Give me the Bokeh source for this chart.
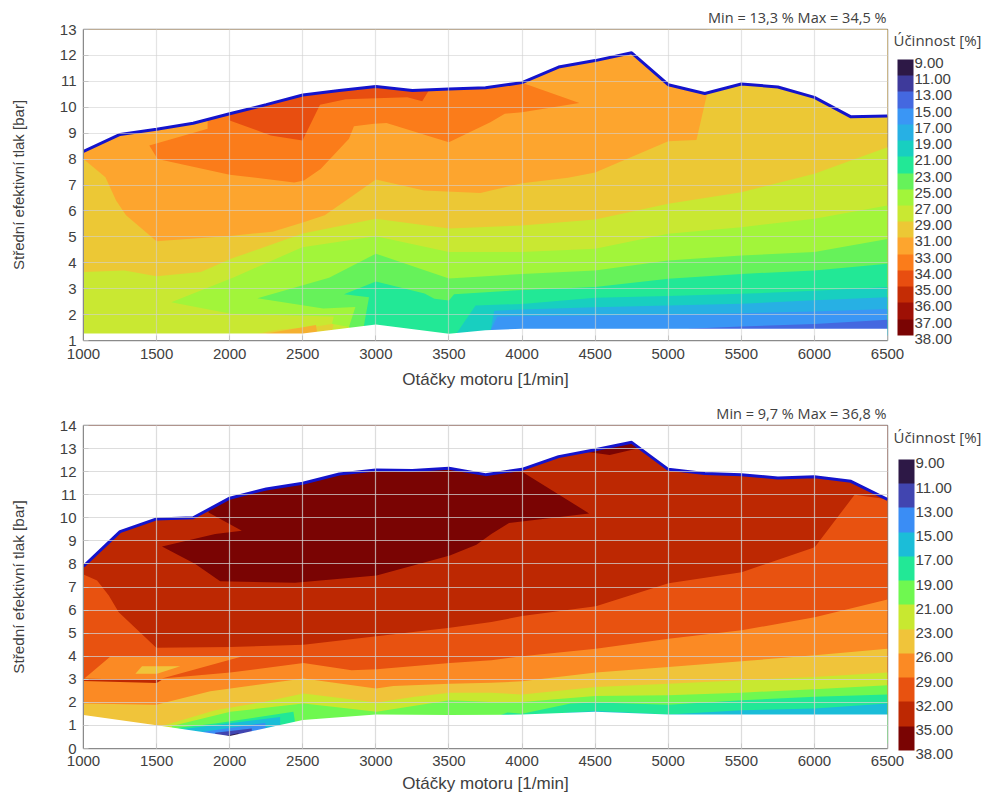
from bokeh.plotting import figure
from bokeh.layouts import column
from bokeh.models import ColorBar, LinearColorMapper, Title, FixedTicker, Range1d, AllLabels, LinearAxis
from bokeh.embed import file_html
from bokeh.resources import INLINE

X_TICKS = [1000, 1500, 2000, 2500, 3000, 3500, 4000, 4500, 5000, 5500, 6000, 6500]
X_TITLE = "Otáčky motoru [1/min]"
Y_TITLE = "Střední efektivní tlak [bar]"
LEGEND_TITLE = "Účinnost [%]"

# ---- top chart ----
T_STATS = "Min = 13,3 % Max = 34,5 %"
T_LABELS = ["9.00", "11.00", "13.00", "15.00", "17.00", "19.00", "21.00", "23.00", "25.00",
            "27.00", "29.00", "31.00", "33.00", "34.00", "35.00", "36.00", "37.00", "38.00"]
T_COLORS = ["#2d1846", "#3e3a9b", "#4468e0", "#3a96f5", "#27b0e4", "#18cfc0", "#22e896", "#66f25a",
            "#a2f53a", "#c9e832", "#ecc835", "#fda52e", "#fb7c1a", "#e84e10", "#c42c05", "#9e1005", "#7a0403"]
T_ENV_X = [1000, 1250, 1500, 1750, 2000, 2250, 2500, 2750, 3000, 3250, 3500, 3750, 4000, 4250, 4500, 4750,
           5000, 5250, 5500, 5750, 6000, 6250, 6500]
T_ENV_TOP = [8.3, 8.95, 9.15, 9.38, 9.75, 10.1, 10.47, 10.65, 10.8, 10.65, 10.7, 10.75, 10.95, 11.55, 11.8, 12.1,
             10.87, 10.53, 10.9, 10.78, 10.38, 9.63, 9.66]
T_LOW_X = [1000, 2500, 3000, 3500, 3750, 4000, 6500]
T_LOW_Y = [1.27, 1.27, 1.62, 1.26, 1.4, 1.45, 1.45]

T_BANDS = [
    # colour, x, y (painted in this order)
    ("#fda52e", [1000, 6500, 6500, 1000], [1, 1, 13, 13]),
    ("#fb7c1a", [1450, 1507, 2000, 2441, 2508, 2622, 2816, 2850, 2987, 3073, 3499, 3783, 3882, 4000, 4392, 4000,
                 3750, 3500, 3250, 3000, 2750, 2500, 2250, 2000, 1849, 1849],
                [8.52, 8.0, 7.4, 7.1, 7.17, 7.62, 8.78, 9.27, 9.36, 9.39, 8.65, 9.42, 9.75, 9.81, 10.16, 10.95,
                 11.2, 11.2, 11.2, 11.2, 11.2, 11.0, 10.6, 10.2, 9.8, 9.17]),
    ("#e84e10", [2000, 2281, 2498, 2618, 2794, 3215, 3317, 3362, 3362, 2000],
                [9.49, 8.91, 8.72, 10.1, 10.31, 10.39, 10.23, 10.65, 11.5, 11.5]),
    ("#ecc835", [1000, 1150, 1223, 1291, 1500, 1780, 2000, 2293, 2500, 2650, 2795, 3000, 3330, 3715, 4000, 4314, 4500,
                 5000, 5193, 5266, 5266, 6500, 6500, 1000],
                [8.0, 7.3, 6.4, 5.83, 4.83, 4.95, 5.03, 5.2, 5.55, 5.83, 6.4, 7.21, 6.79, 6.69, 7.07, 7.28, 7.48,
                 8.69, 8.74, 10.52, 13, 13, 1, 1]),
    ("#c9e832", [1000, 1280, 1500, 1803, 2008, 2500, 3000, 3500, 4000, 4500, 5000, 5500, 6000, 6500, 6500, 1000],
                [3.64, 3.70, 3.48, 3.64, 4.15, 5.13, 5.70, 5.32, 5.44, 5.67, 6.28, 6.72, 7.43, 8.46, 1, 1]),
    ("#e2d234", [2150, 2300, 2600, 2710, 2700, 2700, 2150], [1.2, 1.4, 1.55, 1.65, 1.3, 1.2, 1.2]),
    ("#f5b030", [2250, 2590, 2600, 2500, 2250], [1.27, 1.6, 1.25, 1.2, 1.2]),
    ("#a2f53a", [1600, 2030, 2497, 3000, 3500, 4000, 4500, 5000, 5500, 6000, 6500, 6500, 2900, 2816, 2700, 2712, 2008],
                [2.48, 3.44, 4.6, 5.02, 4.41, 4.41, 4.54, 5.12, 5.37, 5.7, 6.21, 1, 1, 1.52, 1.65, 1.93, 2.03]),
    ("#66f25a", [2190, 2680, 3000, 3500, 4000, 4500, 5000, 5500, 6000, 6500, 6500, 2920, 2816, 2860, 2640],
                [2.63, 3.42, 4.35, 3.39, 3.57, 3.70, 4.09, 4.28, 4.41, 4.92, 1, 1, 1.52, 2.29, 2.23]),
    ("#22e896", [2782, 3000, 3333, 3400, 3500, 3535, 4000, 4500, 5000, 5500, 6000, 6500, 6500, 2900, 2953],
                [2.78, 3.28, 2.81, 2.61, 2.54, 2.78, 2.95, 3.06, 3.38, 3.57, 3.70, 3.96, 1, 1, 2.67]),
    ("#18cfc0", [3543, 3682, 4000, 4500, 5000, 5500, 6000, 6500, 6500, 3543],
                [1.2, 2.35, 2.41, 2.65, 2.72, 2.8, 2.92, 3.06, 1, 1]),
    ("#27b0e4", [3780, 3810, 4000, 4500, 5000, 5500, 6000, 6500, 6500, 3780],
                [1.2, 2.15, 2.2, 2.28, 2.35, 2.42, 2.55, 2.67, 1, 1]),
    ("#3a96f5", [3770, 3830, 4500, 5000, 5500, 6000, 6500, 6500, 3770],
                [1.2, 1.93, 1.96, 2.0, 2.05, 2.12, 2.22, 1, 1]),
    ("#4468e0", [5140, 5500, 6000, 6500, 6500, 5140], [1.45, 1.54, 1.64, 1.8, 1, 1]),
]

# ---- bottom chart ----
B_STATS = "Min = 9,7 % Max = 36,8 %"
B_LABELS = ["9.00", "11.00", "13.00", "15.00", "17.00", "19.00", "21.00", "23.00", "26.00", "29.00", "32.00",
            "35.00", "38.00"]
B_COLORS = ["#2d1846", "#4145b0", "#3a8df5", "#1bbdd8", "#22e896", "#6ff850", "#c8e830", "#f0c43a", "#fb8a24",
            "#e85210", "#bd2802", "#7a0403"]
B_ENV_X = T_ENV_X
B_ENV_TOP = [7.9, 9.4, 9.95, 10.0, 10.85, 11.25, 11.5, 11.9, 12.07, 12.05, 12.15, 11.87, 12.1, 12.65, 12.95, 13.27,
             12.1, 11.92, 11.87, 11.72, 11.78, 11.58, 10.8]
B_LOW_X = [1000, 1500, 2000, 2500, 3000, 3500, 4000, 4500, 5000, 6500]
B_LOW_Y = [1.45, 1.01, 0.54, 1.23, 1.47, 1.45, 1.47, 1.59, 1.47, 1.47]

B_BANDS = [
    ("#bd2802", [1000, 6500, 6500, 1000], [0, 0, 14, 14]),
    ("#7a0403", [1537, 1765, 1935, 2447, 3005, 3506, 3688, 3790, 3911, 4459, 4000, 4000, 1855, 1855, 2083, 1901],
                [8.76, 8.0, 7.25, 7.18, 7.5, 8.36, 8.83, 9.3, 9.77, 10.19, 11.99, 13, 13, 10.23, 9.44, 9.3]),
    ("#7a0403", [4450, 4600, 4790, 4750, 4450], [12.85, 12.72, 13.0, 13.6, 13.2]),
    ("#e85210", [1000, 1093, 1173, 1241, 1498, 2004, 2505, 3005, 3506, 3790, 4000, 4505, 5002, 5502, 6002, 6275,
                 6500, 6500, 1000],
                [7.54, 7.28, 6.63, 5.91, 4.37, 4.4, 4.5, 4.86, 5.23, 5.48, 5.74, 6.17, 7.16, 7.64, 8.72, 11.0,
                 10.8, 0, 0]),
    ("#fb8a24", [1000, 1184, 2083, 1537, 2004, 2505, 2834, 3005, 3506, 3790, 4000, 4505, 5002, 5502, 6002, 6500,
                 6500, 1000],
                [3.0, 3.99, 3.99, 3.03, 3.29, 3.71, 3.39, 3.43, 3.71, 3.82, 4.0, 4.32, 4.76, 5.12, 5.69, 6.46, 0, 0]),
    ("#bd2802", [1000, 1500, 1537, 1000], [2.93, 2.84, 2.98, 3.02]),
    ("#f0c43a", [1355, 1400, 1662, 1503], [3.24, 3.56, 3.56, 3.24]),
    ("#f0c43a", [1000, 1498, 1867, 2505, 3000, 3120, 3506, 3790, 4000, 4505, 5002, 5502, 6002, 6500, 6500, 1000],
                [1.95, 1.9, 2.48, 3.03, 2.6, 2.71, 2.81, 2.85, 2.91, 3.29, 3.53, 3.78, 4.04, 4.32, 0, 0]),
    ("#c8e830", [1537, 1901, 2231, 2505, 3005, 3267, 3506, 3790, 4000, 4505, 5002, 5502, 6002, 6500, 6500, 1537],
                [0.98, 1.66, 2.02, 2.38, 1.99, 2.24, 2.42, 2.42, 2.34, 2.67, 2.81, 2.96, 3.1, 3.29, 0, 0]),
    ("#6ff850", [1605, 2004, 2505, 2720, 3005, 3506, 3790, 4000, 4500, 5000, 5500, 6000, 6500, 6500, 1605],
                [0.98, 1.59, 1.95, 1.8, 1.59, 2.09, 2.02, 2.02, 2.28, 2.31, 2.42, 2.57, 2.74, 0, 0]),
    ("#22e896", [1650, 1901, 2436, 2447, 2447, 1650], [0.9, 1.08, 1.59, 1.15, 0, 0]),
    ("#22e896", [3855, 3900, 4000, 4332, 4505, 5002, 5502, 6002, 6500, 6500, 3855],
                [1.45, 1.56, 1.51, 1.95, 1.99, 1.9, 2.09, 2.24, 2.34, 0, 0]),
    ("#1bbdd8", [1685, 2345, 2345, 1685], [0.84, 1.37, 0, 0]),
    ("#1bbdd8", [4300, 4505, 5002, 5502, 6002, 6500, 6500, 4300], [1.55, 1.62, 1.47, 1.66, 1.73, 1.95, 0, 0]),
    ("#3a8df5", [1810, 2243, 2260, 1810], [0.72, 1.11, 0, 0]),
    ("#4145b0", [1901, 2151, 2151, 1901], [0.68, 0.87, 0, 0]),
    ("#2d1846", [1950, 2060, 2060, 1950], [0.52, 0.66, 0, 0]),
]

TICK_FONT = "Liberation Sans"
TEXT_COLOR = "#404040"
FIG_W = 984


def make_chart(height, left, top, bottom, ymin, ymax, bands, env_x, env_top, low_x, low_y,
               colors, labels, stats, bar_top_off, bar_h, grid_alpha, lab_off, tick_standoff, title_standoff,
               y_title_px):
    p = figure(width=FIG_W, height=height, output_backend="svg", toolbar_location=None,
               x_range=Range1d(1000, 6500), y_range=Range1d(ymin, ymax),
               min_border_left=left, min_border_right=96, min_border_top=top, min_border_bottom=bottom,
               x_axis_label=X_TITLE, y_axis_label=Y_TITLE)
    p.title = Title(text=stats, align="right", text_font="Open Sans", text_font_size="14.5px",
                    text_font_style="normal", text_color=TEXT_COLOR, offset=1, standoff=5)
    p.outline_line_color = "#8a8a8a"
    p.outline_line_width = 1.5
    p.xaxis.ticker = FixedTicker(ticks=X_TICKS)
    p.yaxis.ticker = FixedTicker(ticks=list(range(ymin, ymax + 1)))
    for ax in (p.xaxis[0], p.yaxis[0]):
        ax.axis_line_color = "#8a8a8a"
        ax.major_tick_line_color = "#b0b0b0"
        ax.major_tick_in = 5
        ax.major_tick_out = 0
        ax.minor_tick_line_color = None
        ax.major_label_text_font = TICK_FONT
        ax.major_label_text_font_size = "15px"
        ax.major_label_text_color = TEXT_COLOR
        ax.axis_label_text_font = TICK_FONT
        ax.axis_label_text_font_size = "17px"
        ax.axis_label_text_font_style = "normal"
        ax.axis_label_text_color = TEXT_COLOR
    p.yaxis.axis_label_text_font_size = y_title_px
    p.xaxis.major_label_standoff = tick_standoff
    p.xaxis.axis_label_standoff = title_standoff
    p.yaxis.major_label_standoff = 7
    p.yaxis.axis_label_standoff = 30
    for g in (p.xgrid[0], p.ygrid[0]):
        g.level = "overlay"
        g.grid_line_color = "#d2d2d2"
        g.grid_line_alpha = grid_alpha
        g.grid_line_width = 1.2

    for col, xs, ys in bands:
        p.patch(xs, ys, fill_color=col, line_color=None)

    # white outside the measured envelope
    p.patch([1000] + env_x + [6500], [ymax] + env_top + [ymax], fill_color="white", line_color=None)
    p.patch([1000] + low_x + [6500], [ymin] + low_y + [ymin], fill_color="white", line_color=None)
    p.line(env_x, env_top, line_color="#1414cc", line_width=3)

    frame_w = FIG_W - left - 96
    frame_h = height - top - bottom
    n = len(colors)
    band_h = bar_h / n
    # one extra see-through band below the bar lets the last value sit just under the bar's end
    palette = ["#ffffff00"] + colors[::-1]
    ticks = [round(n - i - lab_off / band_h, 4) for i in range(n + 1)]
    cb = ColorBar(color_mapper=LinearColorMapper(low=-1, high=n, palette=palette),
                  width=16, height=int(round(bar_h + band_h)), ticker=FixedTicker(ticks=ticks),
                  major_label_overrides=dict(zip(ticks, labels)), major_label_policy=AllLabels(),
                  major_label_text_font=TICK_FONT, major_label_text_font_size="15px",
                  major_label_text_color=TEXT_COLOR, label_standoff=1,
                  major_tick_line_color=None, minor_tick_line_color=None, bar_line_color=None,
                  border_line_color=None, background_fill_alpha=0, padding=0, margin=0,
                  location=(frame_w + 9, int(frame_h - bar_top_off - bar_h - band_h)))
    p.add_layout(cb)

    # legend heading, written as the single label of an unlined right-hand axis
    ppu = frame_h / (ymax - ymin)
    head_y = round(ymax - 11 / ppu, 3)
    head = LinearAxis(ticker=FixedTicker(ticks=[head_y]), major_label_overrides={head_y: LEGEND_TITLE},
                      axis_line_color=None, major_tick_line_color=None, minor_tick_line_color=None,
                      major_label_text_font="Open Sans", major_label_text_font_size="15px",
                      major_label_text_color=TEXT_COLOR, major_label_standoff=6,
                      major_tick_in=0, major_tick_out=0)
    p.add_layout(head, "right")
    return p


p1 = make_chart(398, 83, 29, 58, 1, 13, T_BANDS, T_ENV_X, T_ENV_TOP, T_LOW_X, T_LOW_Y,
                T_COLORS, T_LABELS, T_STATS, 30, 276, 0.6, 3.5, 8, 8, "15px")
p2 = make_chart(397, 82, 27, 47, 0, 14, B_BANDS, B_ENV_X, B_ENV_TOP, B_LOW_X, B_LOW_Y,
                B_COLORS, B_LABELS, B_STATS, 34, 291, 0.75, 4, 7, 5, "15.3px")

page = column(p1, p2, spacing=0)
open("out.html", "w").write(file_html(page, INLINE))
